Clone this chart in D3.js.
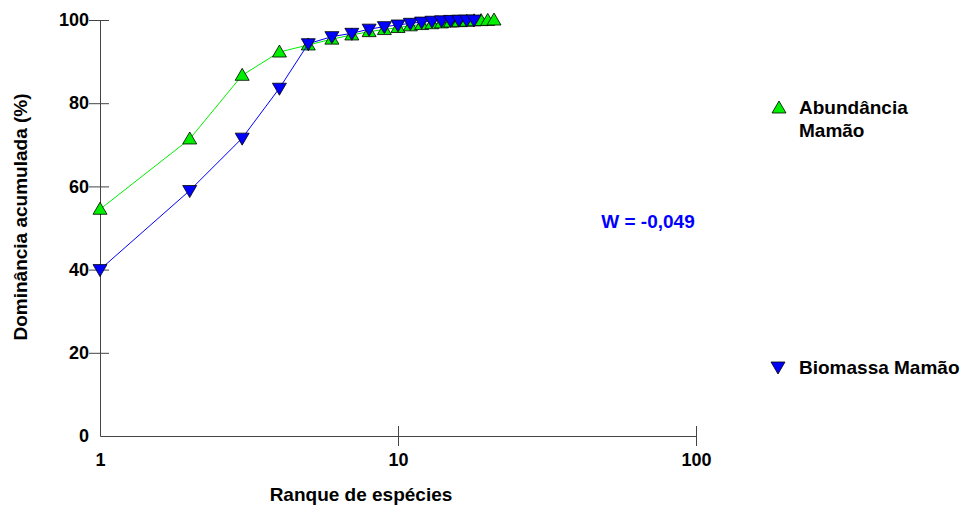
<!DOCTYPE html>
<html>
<head>
<meta charset="utf-8">
<script src="https://cdn.jsdelivr.net/npm/d3@7"></script>
<style>
body{margin:0;background:#fff;}
text{font-family:"Liberation Sans",Arial,sans-serif;font-weight:bold;}
</style>
</head>
<body>
<svg id="chart"></svg>
<script>
// dados
var abundRank = [1,2,3,4,5,6,7,8,9,10,11,12,13,14,15,16,17,18,19,20,21];
var abundMamao = [54.5,71.4,86.7,92.3,94.0,95.4,96.4,97.2,97.7,98.2,98.6,98.9,99.1,99.3,99.5,99.6,99.7,99.8,99.85,99.9,100];
var bioRank = [1,2,3,4,5,6,7,8,9,10,11,12,13,14,15,16,17,18];
var bioMamao = [40.0,59.0,71.6,83.6,94.3,96.0,96.8,97.8,98.4,98.8,99.2,99.5,99.7,99.8,99.9,99.95,99.98,100];
var yTicks = [0,20,40,60,80,100];
var xTicks = [1,10,100];
var wLabel = "W = -0,049";

var svgWidth = 963;
var svgHeight = 508;
var green = "#00ee00";
var blue = "#0000ff";
var fs = "19px";

var svg = d3.select("#chart")
    .attr("width", svgWidth)
    .attr("height", svgHeight);

var x = d3.scaleLog().domain([1,100]).range([100,696]);
var y = d3.scaleLinear().domain([0,100]).range([436,20]);

// eixo y
var yAxis = d3.axisLeft(y)
    .tickValues(yTicks)
    .tickSizeInner(0)
    .tickSizeOuter(0)
    .tickPadding(11)
    .tickFormat(d3.format("d"));
var gy = svg.append("g").attr("transform","translate(100,0)").call(yAxis);
gy.select(".domain").attr("stroke","#444");
gy.selectAll(".tick text").style("font-size","18px").attr("fill","#000");
// tracinhos cruzando o eixo (sem o 0)
gy.selectAll(".tick").filter(function(d){return d>0;})
    .append("line").attr("x1",-11).attr("x2",9).attr("stroke","#444");

// eixo x
var xAxis = d3.axisBottom(x)
    .tickValues(xTicks)
    .tickSizeInner(0)
    .tickSizeOuter(0)
    .tickPadding(17)
    .tickFormat(d3.format("d"));
var gx = svg.append("g").attr("transform","translate(0,436)").call(xAxis);
gx.select(".domain").attr("stroke","#444");
gx.selectAll(".tick text").style("font-size","18px").attr("fill","#000");
gx.selectAll(".tick").filter(function(d){return d>1;})
    .append("line").attr("y1",-10).attr("y2",10).attr("stroke","#444");

// titulos
svg.append("text")
    .attr("transform","translate(27,217) rotate(-90)")
    .attr("text-anchor","middle")
    .style("font-size",fs)
    .text("Dominância acumulada (%)");
svg.append("text")
    .attr("x",361).attr("y",501)
    .attr("text-anchor","middle")
    .style("font-size",fs)
    .text("Ranque de espécies");

var upTri = "M0,-7L7,5L-7,5Z";
var downTri = "M0,7L7,-5L-7,-5Z";

function drawSeries(ranks, vals, color, shape){
    var pts = ranks.map(function(r,i){return [r, vals[i]];});
    svg.append("path")
        .datum(pts)
        .attr("fill","none")
        .attr("stroke",color)
        .attr("stroke-width",1)
        .attr("d", d3.line().x(function(d){return x(d[0]);}).y(function(d){return y(d[1]);}));
    svg.append("g").selectAll("path")
        .data(pts)
        .enter()
        .append("path")
        .attr("d",shape)
        .attr("transform",function(d){return "translate("+x(d[0])+","+y(d[1])+")";})
        .attr("fill",color)
        .attr("stroke","#000")
        .attr("stroke-width",0.8);
}
drawSeries(abundRank, abundMamao, green, upTri);
drawSeries(bioRank, bioMamao, blue, downTri);

// legenda
svg.append("path").attr("d",upTri).attr("transform","translate(779,108)")
    .attr("fill",green).attr("stroke","#000").attr("stroke-width",0.8);
svg.append("text").attr("x",799).attr("y",114).style("font-size",fs).text("Abundância");
svg.append("text").attr("x",799).attr("y",137).style("font-size",fs).text("Mamão");
svg.append("path").attr("d",downTri).attr("transform","translate(778,367)")
    .attr("fill",blue).attr("stroke","#000").attr("stroke-width",0.8);
svg.append("text").attr("x",799).attr("y",374).style("font-size",fs).text("Biomassa Mamão");

svg.append("text")
    .attr("x",648).attr("y",228)
    .attr("text-anchor","middle")
    .attr("fill",blue)
    .style("font-size",fs)
    .text(wLabel);
</script>
</body>
</html>
